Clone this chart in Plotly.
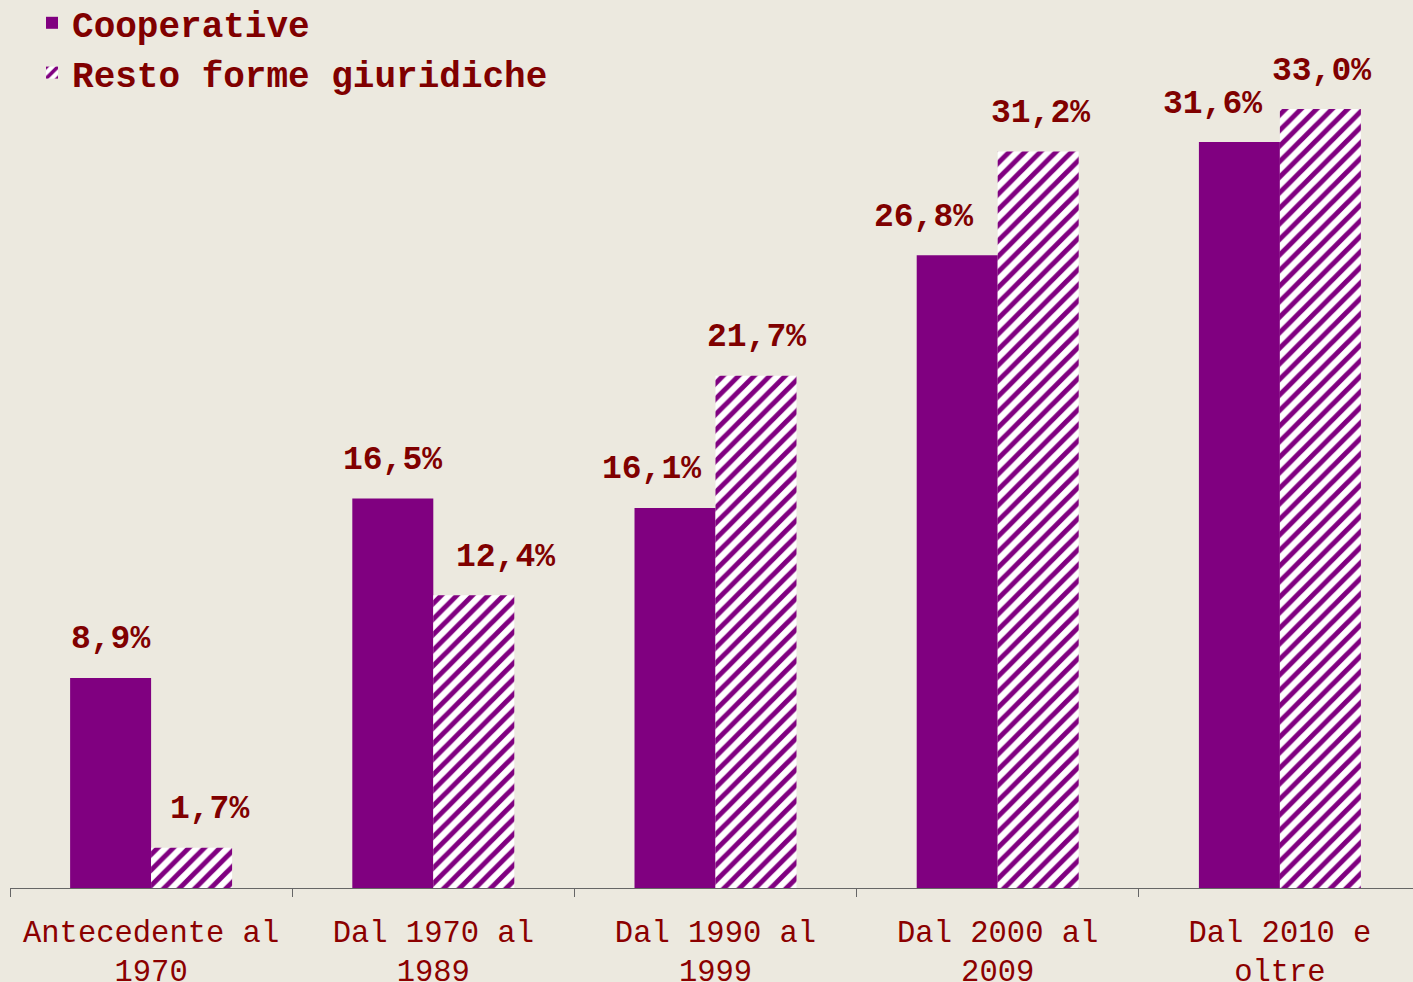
import plotly.graph_objects as go

categories = ["Antecedente al<br>1970", "Dal 1970 al<br>1989", "Dal 1990 al<br>1999",
              "Dal 2000 al<br>2009", "Dal 2010 e<br>oltre"]
cooperative = [8.9, 16.5, 16.1, 26.8, 31.6]
resto = [1.7, 12.4, 21.7, 31.2, 33.0]

# label nudges (pixels) to avoid overlaps, as in the original
coop_nudge = [0, 0, -24, -34, -27]
resto_nudge = [18, 32, 0, 2, 1]

BG = "#ECE9DF"
PURPLE = "#800080"
RED = "#800000"
FONT = "Liberation Mono"

fig = go.Figure()
fig.add_trace(go.Bar(name="Cooperative", x=categories, y=cooperative,
                     marker=dict(color=PURPLE, line=dict(width=0))))
fig.add_trace(go.Bar(name="Resto forme giuridiche", x=categories, y=resto,
                     marker=dict(color="white", line=dict(width=0),
                                 pattern=dict(shape="/", fgcolor=PURPLE, bgcolor="white",
                                              size=11, solidity=0.45, fillmode="replace"))))

def fmt(v):
    return f"{v:.1f}".replace(".", ",") + "%"

for i in range(5):
    fig.add_annotation(x=categories[i], y=cooperative[i], text=fmt(cooperative[i]),
                       showarrow=False, yanchor="middle", yshift=38, xshift=coop_nudge[i] - 40.5,
                       font=dict(family=FONT, size=33, color=RED, weight="bold"))
    fig.add_annotation(x=categories[i], y=resto[i], text=fmt(resto[i]),
                       showarrow=False, yanchor="middle", yshift=38, xshift=resto_nudge[i] + 40.5,
                       font=dict(family=FONT, size=33, color=RED, weight="bold"))

fig.update_layout(
    width=1413, height=982,
    paper_bgcolor=BG, plot_bgcolor=BG,
    margin=dict(l=10, r=0, t=0, b=94, autoexpand=False),
    barmode="group", bargap=0.426, bargroupgap=0,
    showlegend=True,
    legend=dict(x=0.0157, y=1.008, xanchor="left", yanchor="top", xref="paper", yref="paper",
                bgcolor="rgba(0,0,0,0)",
                font=dict(family=FONT, size=36, color=RED, weight="bold"),
                traceorder="normal", itemwidth=30, tracegroupgap=0),
    xaxis=dict(type="category", range=[-0.5, -0.5 + 1403 / 282.2], showgrid=False, zeroline=False,
               showline=True, linecolor="#666666", linewidth=1,
               ticks="outside", ticklen=8, tickcolor="#666666", tickson="boundaries",
               tickfont=dict(family=FONT, size=30.5, color="#8B0000"),
               ticklabelstandoff=16, automargin=False),
    yaxis=dict(range=[0, 888 / 23.606], visible=False, showgrid=False, zeroline=False,
               automargin=False),
)

fig.write_html("out.html", config={"displayModeBar": False},
               post_script="document.body.style.margin='0';document.body.style.background='%s';" % BG)
